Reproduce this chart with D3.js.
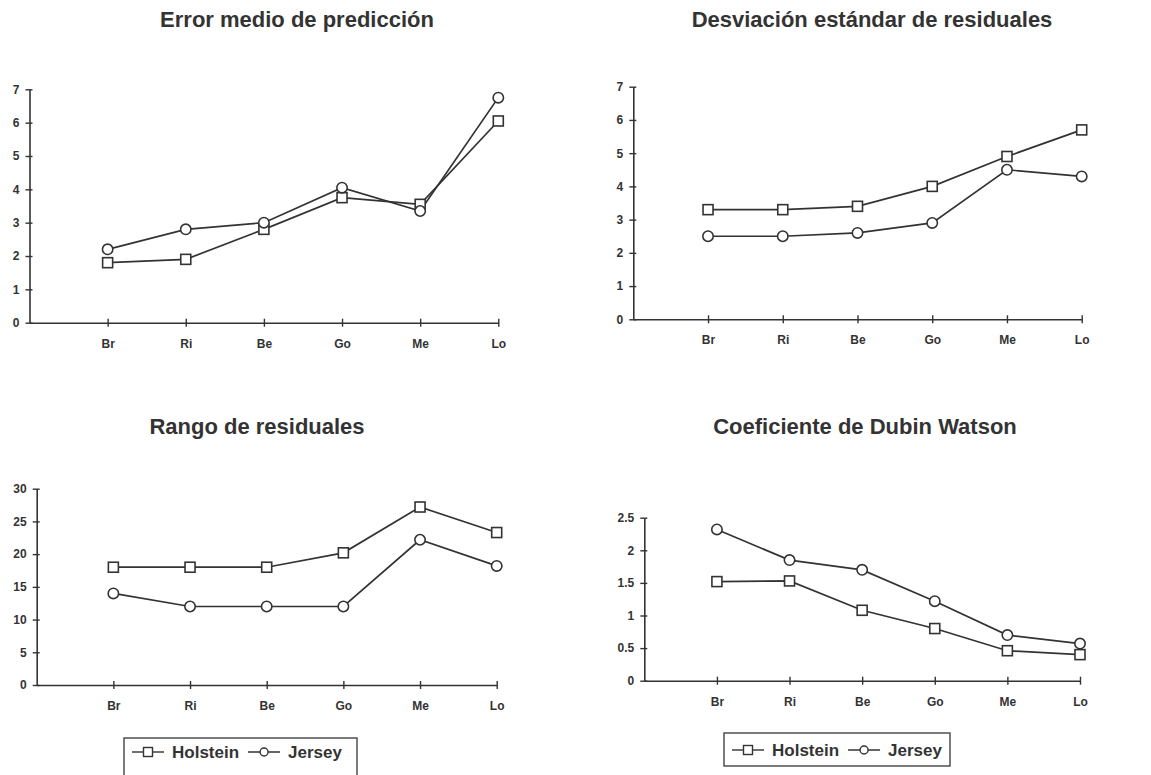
<!DOCTYPE html>
<html>
<head>
<meta charset="utf-8">
<script src="https://cdn.jsdelivr.net/npm/d3@7"></script>
<style>
  body { margin: 0; background: #fff; }
  svg { font-family: "Liberation Sans", Arial, sans-serif; }
  .title { font-size: 22px; font-weight: bold; fill: #333; }
  .axis text { font-size: 12px; font-weight: bold; fill: #333; }
  .axis path, .axis line { stroke: #333; }
  .legend text { font-size: 17px; font-weight: bold; fill: #333; }
</style>
</head>
<body>
<div class="main"></div>
<script>
// Categories along the x axis
const categories = ["Br", "Ri", "Be", "Go", "Me", "Lo"]

// Error medio de predicción
const errHolstein = [1.8, 1.9, 2.8, 3.75, 3.55, 6.05]
const errJersey   = [2.2, 2.8, 3.0, 4.05, 3.35, 6.75]

// Desviación estándar de residuales
const sdHolstein = [3.3, 3.3, 3.4, 4.0, 4.9, 5.7]
const sdJersey   = [2.5, 2.5, 2.6, 2.9, 4.5, 4.3]

// Rango de residuales
const rangeHolstein = [18, 18, 18, 20.2, 27.2, 23.3]
const rangeJersey   = [14, 12, 12, 12, 22.2, 18.2]

// Coeficiente de Dubin Watson
const dwHolstein = [1.52, 1.53, 1.08, 0.8, 0.46, 0.4]
const dwJersey   = [2.32, 1.85, 1.7, 1.22, 0.7, 0.57]

// y tick labels
const ticks7  = [0, 1, 2, 3, 4, 5, 6, 7]
const ticks30 = [0, 5, 10, 15, 20, 25, 30]
const ticksDw = [0, 0.5, 1, 1.5, 2, 2.5]

const seriesNames = ["Holstein", "Jersey"]

const width = 1151
const height = 775

const svg = d3.select(".main")
  .append("svg")
    .attr("width", width)
    .attr("height", height)
    .attr("viewBox", [0, 0, width, height])

const panels = [
  { title: "Error medio de predicción", hol: errHolstein, jer: errJersey, ticks: ticks7,
    x0: 29.5, x1: 498.3, y0: 322.7, y1: 89.3, tx: 297, ty: 27 },
  { title: "Desviación estándar de residuales", hol: sdHolstein, jer: sdJersey, ticks: ticks7,
    x0: 633.3, x1: 1081.7, y0: 319.3, y1: 86.7, tx: 872, ty: 27 },
  { title: "Rango de residuales", hol: rangeHolstein, jer: rangeJersey, ticks: ticks30,
    x0: 36.7, x1: 496.7, y0: 685, y1: 488.7, tx: 257, ty: 434 },
  { title: "Coeficiente de Dubin Watson", hol: dwHolstein, jer: dwJersey, ticks: ticksDw,
    x0: 644.3, x1: 1080, y0: 680.7, y1: 517.7, tx: 865, ty: 434 }
]

function drawPanel(p) {
  // blank first slot so Br sits one step right of the y axis
  const x = d3.scalePoint()
    .domain(["", ...categories])
    .range([p.x0, p.x1])

  const y = d3.scaleLinear()
    .domain([0, d3.max(p.ticks)])
    .range([p.y0, p.y1])

  const g = svg.append("g")

  // Title
  g.append("text")
    .attr("class", "title")
    .attr("x", p.tx)
    .attr("y", p.ty)
    .attr("text-anchor", "middle")
    .text(p.title)

  // x axis, ticks cross the line
  g.append("g")
    .attr("class", "axis")
    .attr("transform", `translate(0, ${p.y0})`)
    .call(d3.axisBottom(x).tickValues(categories).tickSizeOuter(0).tickSizeInner(4))
    .call(a => a.select(".domain").attr("stroke-width", 1.6))
    .call(a => a.selectAll(".tick line").attr("y1", -4).attr("y2", 4).attr("stroke-width", 1.4))
    .call(a => a.selectAll(".tick text").attr("y", 25).attr("dy", 0))

  // y axis
  g.append("g")
    .attr("class", "axis")
    .attr("transform", `translate(${p.x0}, 0)`)
    .call(d3.axisLeft(y).tickValues(p.ticks).tickFormat(d => d).tickSizeOuter(0).tickSizeInner(4).tickPadding(6))
    .call(a => a.select(".domain").attr("stroke-width", 1.6))
    .call(a => a.selectAll(".tick line").attr("x1", -4).attr("x2", 3).attr("stroke-width", 1.4))

  const line = d3.line()
    .x((_, i) => x(categories[i]))
    .y(d => y(d))

  const series = [p.hol, p.jer]

  g.selectAll("path.series")
    .data(series)
    .join("path")
      .attr("class", "series")
      .attr("d", line)
      .attr("fill", "none")
      .attr("stroke", "#333")
      .attr("stroke-width", 1.7)

  // Holstein squares
  g.selectAll("rect.mk")
    .data(p.hol)
    .join("rect")
      .attr("class", "mk")
      .attr("x", (_, i) => x(categories[i]) - 5)
      .attr("y", d => y(d) - 5)
      .attr("width", 10)
      .attr("height", 10)
      .attr("fill", "white")
      .attr("stroke", "#333")
      .attr("stroke-width", 1.6)

  // Jersey circles
  g.selectAll("circle.mk")
    .data(p.jer)
    .join("circle")
      .attr("class", "mk")
      .attr("cx", (_, i) => x(categories[i]))
      .attr("cy", d => y(d))
      .attr("r", 5.2)
      .attr("fill", "white")
      .attr("stroke", "#333")
      .attr("stroke-width", 1.6)
}

panels.forEach(drawPanel)

// Legends (one under each bottom chart)
const legends = [
  { left: 124, right: 357, top: 738, bottom: 790, base: 758 },
  { left: 724, right: 950, top: 733, bottom: 766, base: 756 }
]

function drawLegend(lg) {
  const g = svg.append("g").attr("class", "legend")

  g.append("rect")
    .attr("x", lg.left)
    .attr("y", lg.top)
    .attr("width", lg.right - lg.left)
    .attr("height", lg.bottom - lg.top)
    .attr("fill", "none")
    .attr("stroke", "#444")
    .attr("stroke-width", 1.4)

  const cy = lg.base - 6
  let cx = lg.left + 8
  seriesNames.forEach((name, i) => {
    g.append("line")
      .attr("x1", cx).attr("x2", cx + 32)
      .attr("y1", cy).attr("y2", cy)
      .attr("stroke", "#333")
      .attr("stroke-width", 1.4)
    if (i === 0) {
      g.append("rect")
        .attr("x", cx + 16 - 4.5).attr("y", cy - 4.5)
        .attr("width", 9).attr("height", 9)
        .attr("fill", "white").attr("stroke", "#333").attr("stroke-width", 1.4)
    } else {
      g.append("circle")
        .attr("cx", cx + 16).attr("cy", cy).attr("r", 4)
        .attr("fill", "white").attr("stroke", "#333").attr("stroke-width", 1.4)
    }
    const t = g.append("text")
      .attr("x", cx + 40)
      .attr("y", lg.base)
      .text(name)
    cx = cx + 40 + t.node().getComputedTextLength() + 9
  })
}

legends.forEach(drawLegend)
</script>
</body>
</html>
